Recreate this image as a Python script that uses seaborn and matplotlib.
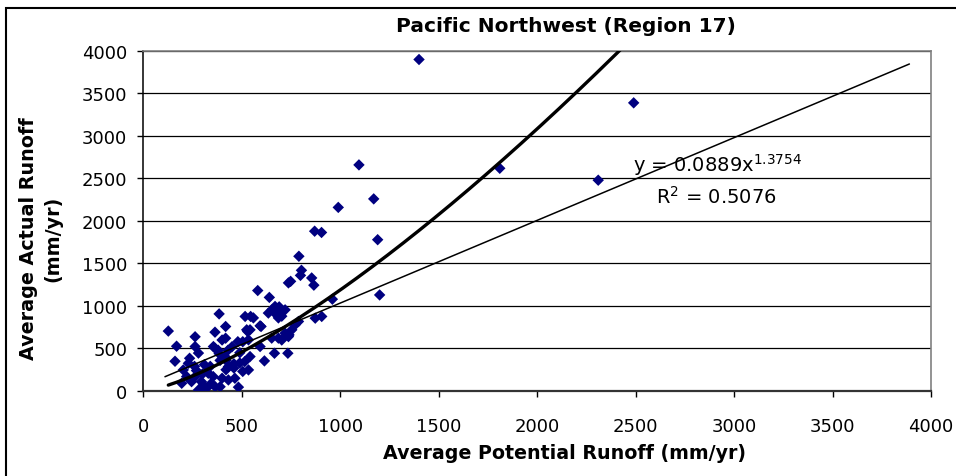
import numpy as np
import pandas as pd
import matplotlib
matplotlib.use("Agg")
import matplotlib.pyplot as plt
import seaborn as sns
from matplotlib.patches import Rectangle

# Valores (mm/yr)
potential = [1400, 2490, 2310, 1810, 1095, 990, 1170, 870, 905, 1190, 1200, 960,
             790, 803, 798, 855, 866, 737, 748, 581, 640,
             635, 669, 675, 703, 720, 703, 686, 655, 690, 559, 517, 545, 385,
             873, 906, 788, 771, 754, 720, 740, 686, 652, 703, 737, 593, 542, 525, 530, 598,
             593, 615, 666, 734, 534, 542, 505, 480, 534,
             127, 169, 161, 263, 263, 280, 364, 418, 418, 364, 356, 400, 229, 203, 263, 245,
             195, 280, 305, 355, 365, 400, 420, 460, 490, 505, 420, 385, 430, 340, 483, 390,
             330, 465, 432, 295, 345, 310, 235, 260, 390, 415, 460, 380, 490, 450, 432, 515,
             220, 300, 320, 270]
actual = [3900, 3390, 2480, 2620, 2660, 2160, 2260, 1880, 1865, 1780, 1130, 1080,
          1585, 1420, 1360, 1330, 1245, 1272, 1290, 1182, 1101,
          917, 995, 900, 936, 955, 880, 860, 960, 990, 860, 877, 877, 907,
          857, 877, 818, 779, 720, 681, 660, 622, 622, 600, 640, 767, 720, 720, 700, 759,
          523, 354, 444, 444, 248, 405, 580, 580, 602,
          705, 527, 350, 638, 523, 446, 692, 759, 621, 503, 523, 600, 326, 248, 169, 110,
          91, 12, 70, 170, 50, 150, 250, 270, 330, 230, 360, 440, 480, 290, 45, 50,
          209, 150, 130, 110, 90, 310, 385, 290, 360, 405, 320, 480, 450, 520, 287, 346,
          170, 200, 30, 240]

# Linea de tendencia potencial (ecuacion del grafico)
coef_a = 0.0889
coef_b = 1.3754
r2 = 0.5076
# linea de referencia (aprox. 1:1)
ref_x = [110, 3890]
ref_y = [168, 3847]

df = pd.DataFrame({"potential": potential, "actual": actual})

sns.set_style("white")
plt.rcParams["font.family"] = ["DejaVu Sans"]
plt.rcParams["mathtext.default"] = "regular"
plt.rcParams["text.color"] = "black"
plt.rcParams["xtick.color"] = "black"
plt.rcParams["ytick.color"] = "black"

fig = plt.figure(figsize=(9.56, 4.77), dpi=100)
ax = fig.add_axes([0.1499, 0.1782, 0.8240, 0.7128])

ax.yaxis.grid(True, color="black", linewidth=0.9)
ax.set_axisbelow(True)

sns.scatterplot(data=df, x="potential", y="actual", marker="D", s=34,
                color="#000080", edgecolor="none", ax=ax, zorder=3)

# curva potencial
xs = np.linspace(min(potential), max(potential), 300)
ax.plot(xs, coef_a * xs ** coef_b, color="black", linewidth=2.4, zorder=4)
ax.plot(ref_x, ref_y, color="black", linewidth=1.1, zorder=4)

ax.set_xlim(0, 4000)
ax.set_ylim(0, 4000)
ax.set_xticks(np.arange(0, 4001, 500))
ax.set_yticks(np.arange(0, 4001, 500))
ax.tick_params(axis="both", direction="out", length=4.5, width=1, color="black",
               labelcolor="black", labelsize=13, bottom=True, left=True)
ax.tick_params(axis="y", pad=7)
ax.tick_params(axis="x", pad=14)

ax.spines["left"].set_color("black")
ax.spines["left"].set_linewidth(1.1)
ax.spines["bottom"].set_color("#333333")
ax.spines["bottom"].set_linewidth(1.6)
for side in ["top", "right"]:
    ax.spines[side].set_color("#808080")
    ax.spines[side].set_linewidth(1.2)

ax.set_xlabel("")
ax.set_ylabel("")

ax.text(2485, 2592, "y = 0.0889x$^{1.3754}$", fontsize=14, va="baseline", ha="left")
ax.text(2604, 2212, "R$^{2}$ = 0.5076", fontsize=14, va="baseline", ha="left")

fig.text(0.5915, 0.9335, "Pacific Northwest (Region 17)", fontsize=14.5, fontweight="bold",
         ha="center", va="baseline")
fig.text(0.591, 0.05, "Average Potential Runoff (mm/yr)", fontsize=13.7, fontweight="bold",
         ha="center", va="center")
fig.text(0.0293, 0.50, "Average Actual Runoff", fontsize=13.8, fontweight="bold",
         ha="center", va="center", rotation=90)
fig.text(0.0554, 0.50, "(mm/yr)", fontsize=13.8, fontweight="bold",
         ha="center", va="center", rotation=90)

# borde exterior del grafico
fig.patches.append(Rectangle((0.0063, -0.05), 1.0, 0.981 + 0.05, fill=False,
                             edgecolor="black", linewidth=1.5, transform=fig.transFigure))

fig.savefig("out.png", dpi=100)
